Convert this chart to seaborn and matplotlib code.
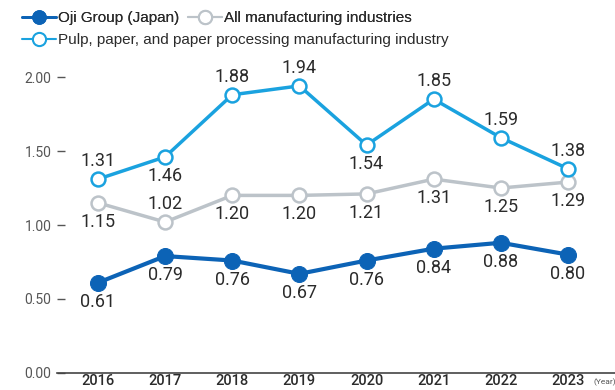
import matplotlib
matplotlib.use("Agg")
import matplotlib.pyplot as plt
import seaborn as sns
import pandas as pd
from matplotlib.lines import Line2D

years = [2016, 2017, 2018, 2019, 2020, 2021, 2022, 2023]
oji = [0.61, 0.79, 0.76, 0.67, 0.76, 0.84, 0.88, 0.80]
all_mfg = [1.15, 1.02, 1.20, 1.20, 1.21, 1.31, 1.25, 1.29]
pulp = [1.31, 1.46, 1.88, 1.94, 1.54, 1.85, 1.59, 1.38]
y_ticks = [0.0, 0.5, 1.0, 1.5, 2.0]
y_tick_labels = ["0.00", "0.50", "1.00", "1.50", "2.00"]

oji_label_pos = ["below"] * 8
all_label_pos = ["below", "above", "below", "below", "below", "below", "below", "below"]
pulp_label_pos = ["above", "below", "above", "above", "below", "above", "above", "above"]

name_oji = "Oji Group (Japan)"
name_all = "All manufacturing industries"
name_pulp = "Pulp, paper, and paper processing manufacturing industry"

c_oji = "#0c63b6"
c_all = "#bcc3c9"
c_pulp = "#1aa2df"

sns.set_style("white")
num_font = ["Roboto", "DejaVu Sans"]
txt_font = ["Liberation Sans", "DejaVu Sans"]
plt.rcParams["font.family"] = txt_font

fig = plt.figure(figsize=(6.15, 3.9), dpi=100)
W, H = 615, 390
ax = fig.add_axes([57 / W, (H - 373) / H, (W - 57) / W, (373 - 77) / H])

df = pd.DataFrame({"year": years, "oji": oji, "all": all_mfg, "pulp": pulp})

sns.lineplot(data=df, x="year", y="all", ax=ax, color=c_all, lw=2.5,
             marker="o", markersize=10, markerfacecolor="white",
             markeredgecolor=c_all, markeredgewidth=1.8, clip_on=False, zorder=3)
sns.lineplot(data=df, x="year", y="pulp", ax=ax, color=c_pulp, lw=2.5,
             marker="o", markersize=10, markerfacecolor="white",
             markeredgecolor=c_pulp, markeredgewidth=1.8, clip_on=False, zorder=4)
sns.lineplot(data=df, x="year", y="oji", ax=ax, color=c_oji, lw=3,
             marker="o", markersize=11.5, markerfacecolor=c_oji,
             markeredgecolor=c_oji, clip_on=False, zorder=5)

def add_labels(vals, poss):
    for x, v, p in zip(years, vals, poss):
        dy = 18 if p == "above" else -19
        ax.annotate(f"{v:.2f}", (x, v), xytext=(0, dy), textcoords="offset pixels",
                    ha="center", va="center", fontsize=13, color="#2b2b2b",
                    family=num_font, zorder=6)

add_labels(oji, oji_label_pos)
add_labels(all_mfg, all_label_pos)
add_labels(pulp, pulp_label_pos)

ax.set_xlim(2016 - 0.61, 2023 + 0.70)
ax.set_ylim(0, 2.0)
ax.set_yticks(y_ticks)
ax.set_yticklabels(y_tick_labels, family=num_font, fontsize=10, color="#555555")
ax.set_xticks(years)
ax.set_xticklabels([str(y) for y in years], family=num_font, fontsize=10.5,
                   color="#2b2b2b", fontweight="medium")
ax.tick_params(axis="y", direction="in", length=6, width=1, color="#555555", pad=4, left=True)
ax.tick_params(axis="x", length=0, pad=1)
ax.set_xlabel("")
ax.set_ylabel("")
for s in ["top", "right", "left"]:
    ax.spines[s].set_visible(False)
ax.spines["bottom"].set_color("#444444")
ax.spines["bottom"].set_linewidth(1.2)
ax.grid(False)

ax.annotate("(Year)", xy=(1, 0), xycoords="axes fraction", xytext=(-22, -9),
            textcoords="offset pixels", ha="left", va="center", fontsize=6,
            color="#555555", family=num_font)

h_oji = Line2D([], [], color=c_oji, lw=2, marker="o", markersize=9.5,
               markerfacecolor=c_oji, markeredgecolor=c_oji)
h_all = Line2D([], [], color=c_all, lw=1.5, marker="o", markersize=9.5,
               markerfacecolor="white", markeredgecolor=c_all, markeredgewidth=1.5)
h_pulp = Line2D([], [], color=c_pulp, lw=1.5, marker="o", markersize=9.5,
                markerfacecolor="white", markeredgecolor=c_pulp, markeredgewidth=1.5)

leg_kw = dict(frameon=False, fontsize=11, handlelength=2.2, handletextpad=0.15,
              borderpad=0, borderaxespad=0, labelcolor="#2b2b2b")
leg1 = fig.legend([h_oji, h_all], [name_oji, name_all], loc="center left",
                  bbox_to_anchor=(22 / W, 1 - 18 / H), ncol=2, columnspacing=0.6, **leg_kw)
fig.add_artist(leg1)
fig.legend([h_pulp], [name_pulp], loc="center left",
           bbox_to_anchor=(22 / W, 1 - 40 / H), **leg_kw)

fig.savefig("out.png", dpi=100)
